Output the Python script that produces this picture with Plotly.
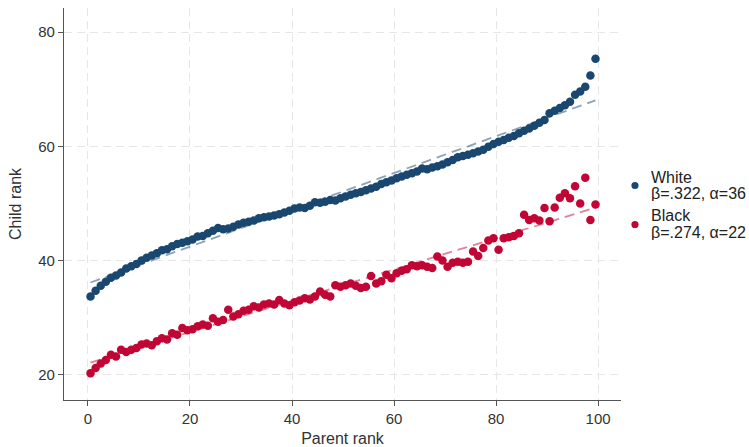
import numpy as np
import plotly.graph_objects as go

parent_rank = [i + 0.5 for i in range(100)]

white_child = [33.7, 34.7, 35.6, 36.3, 37.0, 37.4, 37.9, 38.6, 39.0, 39.4,
               40.0, 40.5, 40.9, 41.3, 41.8, 42.0, 42.5, 42.9, 43.1, 43.4,
               43.7, 44.2, 44.3, 44.8, 45.2, 45.7, 45.5, 45.6, 45.9, 46.3,
               46.6, 46.8, 47.0, 47.4, 47.6, 47.7, 47.9, 48.1, 48.4, 48.7,
               49.1, 49.3, 49.2, 49.6, 50.2, 50.1, 50.3, 50.6, 50.5, 50.9,
               51.2, 51.5, 51.8, 52.0, 52.3, 52.6, 52.9, 53.4, 53.7, 54.0,
               54.4, 54.7, 55.0, 55.3, 55.6, 56.1, 56.0, 56.3, 56.5, 56.8,
               57.2, 57.6, 58.1, 58.3, 58.5, 58.8, 59.1, 59.4, 59.9, 60.4,
               60.8, 61.1, 61.5, 61.8, 62.3, 62.7, 63.1, 63.6, 64.1, 64.6,
               65.8, 66.2, 66.7, 67.2, 67.8, 69.0, 69.6, 70.4, 72.4, 75.3]

black_child = [20.3, 21.2, 22.0, 22.6, 23.5, 23.2, 24.4, 24.0, 24.4, 24.7,
               25.3, 25.5, 25.2, 25.9, 26.4, 26.2, 27.3, 27.0, 28.2, 27.8,
               28.0, 28.5, 28.8, 28.6, 29.9, 29.3, 29.6, 31.4, 30.2, 30.6,
               31.2, 31.4, 32.0, 31.8, 32.3, 32.5, 32.3, 33.1, 32.5, 32.2,
               32.7, 33.0, 33.4, 33.2, 33.7, 34.6, 34.0, 33.7, 35.7, 35.4,
               35.7, 36.0, 35.6, 35.2, 35.4, 37.3, 36.0, 36.4, 37.5, 36.9,
               37.8, 38.2, 38.5, 39.2, 39.0, 39.2, 38.9, 38.7, 40.7, 40.0,
               38.9, 39.6, 39.8, 39.6, 39.8, 41.6, 40.8, 42.2, 43.5, 43.9,
               41.9, 43.9, 44.1, 44.3, 44.8, 48.0, 47.1, 47.4, 47.0, 49.2,
               46.9, 49.3, 51.0, 51.8, 50.9, 53.0, 50.0, 54.5, 47.1, 49.8]

groups = ["White", "Black"]
betas = [0.322, 0.274]
alphas = [36, 22]
beta_labels = [".322", ".274"]
marker_colors = ["#1a476f", "#c10534"]
line_colors = ["rgba(26,71,111,0.5)", "rgba(193,5,52,0.5)"]

x_ticks = [0, 20, 40, 60, 80, 100]
y_ticks = [20, 40, 60, 80]

FONT = "Liberation Sans, Arial, sans-serif"

fig = go.Figure()
series = [white_child, black_child]
x = np.array(parent_rank)
for g, ys, b, a, bl, mc, lc in zip(groups, series, betas, alphas, beta_labels, marker_colors, line_colors):
    fig.add_trace(go.Scatter(
        x=parent_rank, y=ys, mode="markers",
        marker=dict(color=mc, size=8.5, line=dict(width=0)),
        name=f"{g} β={bl}, α={a}", showlegend=False))
    fig.add_trace(go.Scatter(
        x=parent_rank, y=list(a + b * x), mode="lines",
        line=dict(color=lc, width=1.8, dash="10px,6px"),
        showlegend=False, hoverinfo="skip"))

# Legend drawn manually (outside plot area, without pushing margins)
legend_marker_y = [0.5472, 0.4477]
legend_line1_y = [0.5689, 0.4707]
legend_line2_y = [0.5281, 0.4286]
for g, bl, a, mc, my, y1, y2 in zip(groups, beta_labels, alphas, marker_colors,
                                     legend_marker_y, legend_line1_y, legend_line2_y):
    fig.add_shape(type="circle", xref="paper", yref="paper",
                  xsizemode="pixel", ysizemode="pixel",
                  xanchor=1.0251, yanchor=my, x0=-3.6, x1=3.6, y0=-3.6, y1=3.6,
                  fillcolor=mc, line=dict(width=0))
    for txt, yy in ((g, y1), (f"β={bl}, α={a}", y2)):
        fig.add_annotation(x=1.052, y=yy, xref="paper", yref="paper", text=txt,
                           showarrow=False, xanchor="left", yanchor="middle",
                           height=16, valign="middle", borderpad=0,
                           font=dict(family=FONT, size=16, color="#222222"))

axis_common = dict(
    showline=True, linecolor="#555555", linewidth=1.2,
    showgrid=True, gridcolor="#e6e6e6", griddash="8px,5px", gridwidth=1,
    zeroline=False, ticks="outside", ticklen=5, tickcolor="#555555",
    automargin=False,
    tickfont=dict(family=FONT, size=15, color="#333333"),
    title_font=dict(family=FONT, size=16, color="#333333"),
)

fig.update_layout(
    width=749, height=447,
    margin=dict(l=64, r=128, t=8, b=47),
    paper_bgcolor="white", plot_bgcolor="white",
    xaxis=dict(range=[-4.7, 104.5], tickvals=x_ticks, title=dict(text="Parent rank", standoff=8), **axis_common),
    yaxis=dict(range=[15.6, 84.2], tickvals=y_ticks, title=dict(text="Child rank", standoff=12), **axis_common),
    showlegend=False,
)

fig.write_html("out.html")
